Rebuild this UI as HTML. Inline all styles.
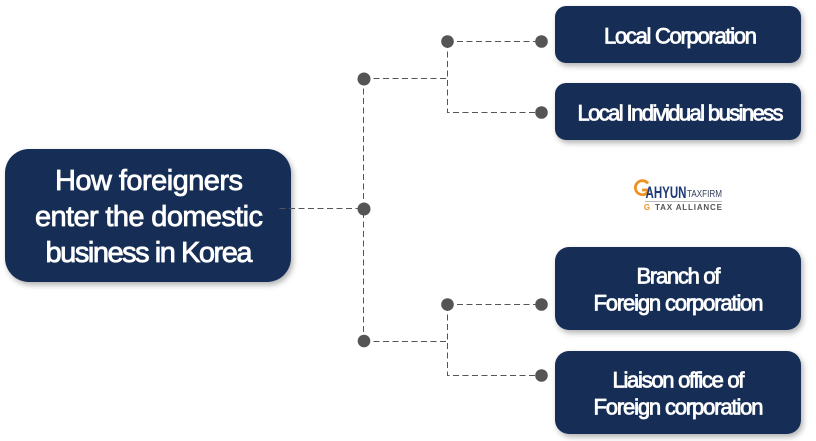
<!DOCTYPE html>
<html><head><meta charset="utf-8">
<style>
html,body{margin:0;padding:0;background:#fff;width:816px;height:441px;overflow:hidden}
svg{position:absolute;left:0;top:0}
text{font-family:"Liberation Sans",sans-serif;text-anchor:middle}
.t text{fill:#fff;stroke:#fff;stroke-width:.8px}
</style></head><body>
<svg width="816" height="441" viewBox="0 0 816 441">
<defs><filter id="s" x="-10%" y="-20%" width="125%" height="145%"><feDropShadow dx="2" dy="3" stdDeviation="3" flood-color="#000" flood-opacity=".3"/></filter></defs>
<g fill="#152e57" filter="url(#s)">
<rect x="5" y="149" width="286" height="133" rx="24"/>
<rect x="555" y="6" width="246" height="57" rx="11"/>
<rect x="555" y="83" width="246" height="57" rx="11"/>
<rect x="555" y="247" width="246" height="83" rx="14"/>
<rect x="555" y="351" width="246" height="83" rx="14"/>
</g>
<g fill="none" stroke="#555" stroke-width="1" stroke-dasharray="6 3.500">
<path d="M279.500 208.500H364"/>
<path d="M363.500 79V341"/>
<path d="M364 78.500H447.500"/>
<path d="M447.500 41.500H541.500"/>
<path d="M447.500 42V112.500H541.500"/>
<path d="M364 341.500H447.500"/>
<path d="M447.500 304.500H541.500"/>
<path d="M447.500 305V375.500H541.500"/>
</g>
<g fill="#555">
<circle cx="364" cy="79" r="6.500"/><circle cx="364" cy="209" r="6.500"/><circle cx="364" cy="341" r="6.300"/>
<circle cx="447.500" cy="41.500" r="6.300"/><circle cx="447.500" cy="304.500" r="6.300"/>
<circle cx="541.500" cy="41.500" r="6.300"/><circle cx="541.500" cy="112.500" r="6.300"/>
<circle cx="541.500" cy="304.500" r="6.300"/><circle cx="541.500" cy="375.500" r="6.300"/>
</g>
<g font-size="29" class="t">
<text x="149" y="190" textLength="188" lengthAdjust="spacing">How foreigners</text>
<text x="149" y="226" textLength="228" lengthAdjust="spacing">enter the domestic</text>
<text x="149" y="262" textLength="207" lengthAdjust="spacing">business in Korea</text>
</g>
<g font-size="22" class="t">
<text x="680.500" y="43.500" textLength="153" lengthAdjust="spacing">Local Corporation</text>
<text x="680.500" y="120.500" textLength="206" lengthAdjust="spacing">Local Individual business</text>
<text x="678.500" y="283.500" textLength="84" lengthAdjust="spacing">Branch of</text>
<text x="678.500" y="310.500" textLength="170" lengthAdjust="spacing">Foreign corporation</text>
<text x="678.500" y="387.500" textLength="132" lengthAdjust="spacing">Liaison office of</text>
<text x="678.500" y="414.500" textLength="170" lengthAdjust="spacing">Foreign corporation</text>
</g>
<path d="M648 183.500A7 7 0 1 0 649 190H642" fill="none" stroke="#ee9322" stroke-width="2.800"/>
<text x="666" y="198" font-size="17" font-weight="bold" textLength="41" lengthAdjust="spacingAndGlyphs" style="fill:#1d3b78">AHYUN</text>
<text x="704.500" y="197" font-size="10" textLength="35" lengthAdjust="spacingAndGlyphs" style="fill:#33415f">TAXFIRM</text>
<rect x="645" y="201" width="77" height="1" fill="#bbb"/>
<text x="647" y="210" font-size="8" font-weight="bold" style="fill:#ee9322">G</text>
<text x="688.500" y="210" font-size="8" font-weight="bold" textLength="67" lengthAdjust="spacing" style="fill:#555">TAX ALLIANCE</text>
</svg>
</body></html>
